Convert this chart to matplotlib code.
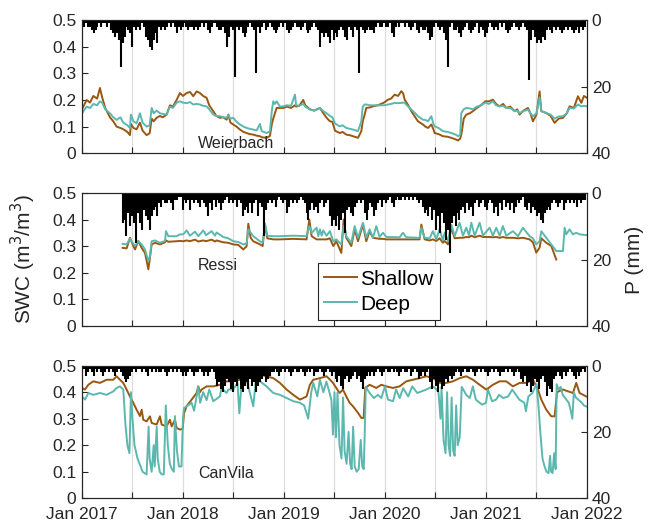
import numpy as np
import matplotlib.pyplot as plt

plt.rcParams['font.family'] = ['Liberation Sans', 'DejaVu Sans']

# ---------------- Weierbach ----------------
wb_t = [2017.000, 2017.046, 2017.080, 2017.112, 2017.150, 2017.178, 2017.200, 2017.230, 2017.277, 2017.310,
        2017.343, 2017.380, 2017.409, 2017.450, 2017.475, 2017.485, 2017.510, 2017.541, 2017.574, 2017.600,
        2017.640, 2017.670, 2017.690, 2017.710, 2017.739, 2017.772, 2017.800, 2017.838, 2017.871, 2017.900,
        2017.937, 2017.970, 2018.000, 2018.036, 2018.070, 2018.102, 2018.135, 2018.168, 2018.200, 2018.234,
        2018.260, 2018.300, 2018.330, 2018.366, 2018.400, 2018.432, 2018.450, 2018.470, 2018.498, 2018.530,
        2018.564, 2018.600, 2018.630, 2018.660, 2018.696, 2018.730, 2018.762, 2018.780, 2018.828, 2018.861,
        2018.880, 2018.894, 2018.910, 2018.927, 2018.960, 2018.993, 2019.030, 2019.070, 2019.109, 2019.120,
        2019.150, 2019.191, 2019.210, 2019.257, 2019.300, 2019.356, 2019.390, 2019.422, 2019.455, 2019.480,
        2019.505, 2019.551, 2019.580, 2019.617, 2019.650, 2019.683, 2019.733, 2019.766, 2019.780, 2019.799,
        2019.815, 2019.850, 2019.881, 2019.930, 2019.990, 2020.030, 2020.060, 2020.096, 2020.130, 2020.162,
        2020.180, 2020.195, 2020.230, 2020.261, 2020.300, 2020.327, 2020.376, 2020.400, 2020.426, 2020.459,
        2020.480, 2020.492, 2020.530, 2020.574, 2020.620, 2020.657, 2020.700, 2020.723, 2020.745, 2020.756,
        2020.780, 2020.805, 2020.840, 2020.871, 2020.910, 2020.950, 2020.993, 2021.030, 2021.069, 2021.100,
        2021.135, 2021.170, 2021.201, 2021.240, 2021.284, 2021.310, 2021.333, 2021.370, 2021.416, 2021.440,
        2021.465, 2021.500, 2021.531, 2021.548, 2021.597, 2021.640, 2021.680, 2021.720, 2021.762, 2021.800,
        2021.828, 2021.870, 2021.911, 2021.944, 2021.970, 2022.000]
wb_shallow = [0.165, 0.200, 0.190, 0.215, 0.205, 0.245, 0.210, 0.170, 0.135, 0.120,
              0.100, 0.095, 0.090, 0.080, 0.068, 0.110, 0.095, 0.090, 0.115, 0.085,
              0.068, 0.075, 0.130, 0.120, 0.133, 0.140, 0.135, 0.145, 0.180, 0.175,
              0.200, 0.226, 0.215, 0.226, 0.230, 0.214, 0.232, 0.226, 0.215, 0.208,
              0.180, 0.158, 0.140, 0.133, 0.135, 0.126, 0.145, 0.115, 0.108, 0.100,
              0.089, 0.080, 0.076, 0.072, 0.070, 0.066, 0.064, 0.060, 0.058, 0.065,
              0.110, 0.130, 0.150, 0.170, 0.170, 0.170, 0.175, 0.170, 0.180, 0.175,
              0.178, 0.200, 0.180, 0.165, 0.160, 0.170, 0.150, 0.133, 0.120, 0.118,
              0.085, 0.076, 0.080, 0.070, 0.068, 0.064, 0.058, 0.083, 0.120, 0.145,
              0.170, 0.172, 0.176, 0.180, 0.190, 0.201, 0.205, 0.220, 0.215, 0.233,
              0.225, 0.201, 0.180, 0.158, 0.135, 0.120, 0.108, 0.100, 0.095, 0.108,
              0.090, 0.076, 0.072, 0.064, 0.062, 0.058, 0.052, 0.048, 0.055, 0.070,
              0.130, 0.145, 0.150, 0.158, 0.170, 0.180, 0.195, 0.195, 0.201, 0.185,
              0.176, 0.185, 0.170, 0.175, 0.158, 0.165, 0.145, 0.160, 0.170, 0.150,
              0.120, 0.145, 0.232, 0.158, 0.151, 0.140, 0.114, 0.130, 0.133, 0.150,
              0.176, 0.170, 0.214, 0.189, 0.215, 0.208]
wb_deep = [0.150, 0.175, 0.170, 0.185, 0.180, 0.195, 0.190, 0.165, 0.150, 0.135,
           0.125, 0.135, 0.115, 0.105, 0.095, 0.145, 0.120, 0.112, 0.150, 0.115,
           0.100, 0.105, 0.170, 0.150, 0.160, 0.150, 0.148, 0.145, 0.175, 0.170,
           0.190, 0.195, 0.190, 0.188, 0.192, 0.183, 0.185, 0.183, 0.178, 0.176,
           0.165, 0.145, 0.140, 0.139, 0.135, 0.133, 0.142, 0.130, 0.133, 0.118,
           0.108, 0.100, 0.095, 0.092, 0.089, 0.086, 0.110, 0.083, 0.076, 0.083,
           0.160, 0.195, 0.185, 0.195, 0.175, 0.176, 0.180, 0.178, 0.220, 0.180,
           0.178, 0.185, 0.175, 0.164, 0.160, 0.170, 0.158, 0.150, 0.140, 0.135,
           0.112, 0.101, 0.105, 0.095, 0.092, 0.089, 0.083, 0.120, 0.175, 0.183,
           0.183, 0.180, 0.180, 0.180, 0.180, 0.183, 0.185, 0.189, 0.188, 0.189,
           0.190, 0.189, 0.175, 0.164, 0.150, 0.139, 0.126, 0.125, 0.120, 0.139,
           0.110, 0.101, 0.095, 0.083, 0.080, 0.076, 0.070, 0.064, 0.070, 0.151,
           0.165, 0.170, 0.168, 0.165, 0.175, 0.180, 0.190, 0.185, 0.195, 0.180,
           0.176, 0.178, 0.170, 0.170, 0.158, 0.160, 0.151, 0.158, 0.164, 0.150,
           0.139, 0.150, 0.210, 0.158, 0.151, 0.145, 0.130, 0.138, 0.139, 0.150,
           0.170, 0.168, 0.183, 0.176, 0.178, 0.176]
# weekly maximum daily precipitation (mm), first week = Jan 2017
wb_p = [1, 2, 1, 2, 2, 3, 4, 3, 2, 1, 2, 1, 1, 2, 1, 3, 4, 5, 4, 6,
        14, 7, 5, 2, 3, 4, 8, 2, 3, 2, 3, 1, 2, 5, 6, 8, 9, 6, 4, 7,
        2, 3, 2, 3, 2, 1, 2, 1, 2, 4, 2, 3, 2, 1, 2, 3, 2, 2, 3, 2,
        3, 2, 1, 2, 1, 3, 4, 2, 1, 1, 2, 3, 3, 2, 4, 8, 5, 2, 3, 17,
        2, 3, 2, 4, 5, 4, 2, 1, 2, 3, 16, 2, 4, 2, 1, 3, 2, 1, 2, 3,
        4, 3, 2, 1, 2, 1, 3, 4, 3, 2, 1, 2, 2, 3, 2, 1, 3, 4, 3, 2,
        1, 2, 3, 8, 4, 5, 4, 5, 7, 3, 6, 4, 5, 3, 2, 3, 5, 6, 2, 3,
        5, 2, 3, 16, 2, 3, 4, 3, 2, 3, 3, 4, 2, 1, 2, 2, 1, 2, 2, 1,
        4, 5, 2, 1, 2, 1, 1, 2, 1, 2, 3, 2, 1, 3, 4, 2, 3, 3, 2, 4,
        6, 5, 2, 1, 2, 3, 2, 4, 6, 14, 2, 1, 3, 3, 2, 4, 5, 3, 2, 1,
        3, 4, 3, 2, 1, 4, 2, 3, 5, 4, 2, 1, 2, 3, 2, 3, 1, 2, 1, 3,
        4, 3, 2, 1, 2, 2, 3, 2, 1, 2, 3, 18, 6, 3, 5, 7, 6, 7, 5, 6,
        3, 2, 3, 4, 2, 3, 2, 3, 4, 3, 2, 3, 2, 3, 4, 3, 2, 4, 2, 3, 2]
wb_p_week0 = 0

# ---------------- Ressi ----------------
rs_t = [2017.403, 2017.442, 2017.475, 2017.502, 2017.525, 2017.558, 2017.591, 2017.624, 2017.657, 2017.673,
        2017.690, 2017.723, 2017.772, 2017.822, 2017.832, 2017.855, 2017.937, 2017.970, 2018.003, 2018.036,
        2018.069, 2018.119, 2018.152, 2018.201, 2018.228, 2018.284, 2018.317, 2018.333, 2018.399, 2018.449,
        2018.498, 2018.548, 2018.597, 2018.630, 2018.647, 2018.670, 2018.696, 2018.762, 2018.789, 2018.812,
        2018.835, 2018.894, 2018.960, 2019.092, 2019.224, 2019.251, 2019.274, 2019.323, 2019.340, 2019.356,
        2019.373, 2019.389, 2019.422, 2019.455, 2019.488, 2019.518, 2019.568, 2019.591, 2019.617, 2019.667,
        2019.700, 2019.733, 2019.782, 2019.815, 2019.848, 2019.881, 2019.914, 2019.947, 2019.980, 2020.013,
        2020.145, 2020.178, 2020.211, 2020.343, 2020.360, 2020.393, 2020.442, 2020.475, 2020.508, 2020.541,
        2020.574, 2020.591, 2020.624, 2020.657, 2020.690, 2020.739, 2020.772, 2020.805, 2020.832, 2020.855,
        2020.888, 2020.937, 2020.970, 2021.036, 2021.069, 2021.102, 2021.135, 2021.168, 2021.201, 2021.267,
        2021.317, 2021.366, 2021.432, 2021.465, 2021.498, 2021.531, 2021.548, 2021.597, 2021.647, 2021.696]
rs_shallow = [0.294, 0.292, 0.332, 0.307, 0.288, 0.320, 0.294, 0.275, 0.213, 0.257,
              0.307, 0.313, 0.307, 0.315, 0.322, 0.317, 0.319, 0.320, 0.319, 0.322,
              0.319, 0.325, 0.318, 0.322, 0.319, 0.325, 0.318, 0.322, 0.315, 0.313,
              0.307, 0.305, 0.288, 0.300, 0.385, 0.332, 0.319, 0.307, 0.301, 0.382,
              0.330, 0.326, 0.326, 0.328, 0.326, 0.401, 0.338, 0.326, 0.326, 0.326,
              0.326, 0.326, 0.326, 0.330, 0.301, 0.319, 0.275, 0.401, 0.332, 0.301,
              0.364, 0.319, 0.382, 0.319, 0.357, 0.332, 0.330, 0.328, 0.328, 0.326,
              0.326, 0.326, 0.326, 0.326, 0.382, 0.326, 0.322, 0.326, 0.320, 0.330,
              0.313, 0.320, 0.307, 0.370, 0.330, 0.332, 0.332, 0.335, 0.334, 0.340,
              0.334, 0.340, 0.335, 0.335, 0.334, 0.335, 0.332, 0.335, 0.332, 0.332,
              0.330, 0.332, 0.326, 0.315, 0.276, 0.295, 0.330, 0.313, 0.301, 0.250]
rs_deep = [0.309, 0.307, 0.328, 0.313, 0.301, 0.319, 0.307, 0.288, 0.244, 0.263,
           0.319, 0.322, 0.313, 0.320, 0.357, 0.338, 0.338, 0.345, 0.345, 0.360,
           0.340, 0.355, 0.338, 0.360, 0.342, 0.357, 0.340, 0.352, 0.335, 0.330,
           0.319, 0.316, 0.307, 0.310, 0.364, 0.351, 0.338, 0.319, 0.313, 0.385,
           0.340, 0.338, 0.338, 0.340, 0.338, 0.376, 0.351, 0.370, 0.338, 0.364,
           0.340, 0.360, 0.340, 0.357, 0.319, 0.326, 0.307, 0.376, 0.338, 0.313,
           0.376, 0.332, 0.389, 0.332, 0.364, 0.332, 0.376, 0.335, 0.351, 0.335,
           0.334, 0.351, 0.334, 0.332, 0.370, 0.332, 0.330, 0.357, 0.326, 0.364,
           0.322, 0.351, 0.319, 0.382, 0.338, 0.389, 0.340, 0.370, 0.342, 0.389,
           0.340, 0.389, 0.340, 0.370, 0.340, 0.370, 0.340, 0.376, 0.340, 0.357,
           0.338, 0.370, 0.338, 0.330, 0.307, 0.319, 0.357, 0.332, 0.307, 0.282]
rs_deep_tail_t = [2021.762, 2021.779, 2021.795, 2021.828, 2021.861, 2021.894, 2021.927, 2022.000]
rs_deep_tail = [0.282, 0.370, 0.345, 0.364, 0.345, 0.351, 0.345, 0.342]
rs_p = [9, 8, 13, 6, 10, 7, 9, 15, 6, 9, 11, 5, 7, 8, 11, 7, 5, 4, 7, 3,
        4, 2, 3, 3, 2, 3, 5, 2, 2, 1, 1, 5, 2, 3, 2, 5, 2, 3, 2, 3,
        4, 2, 3, 4, 7, 3, 5, 2, 4, 2, 3, 5, 3, 2, 1, 3, 2, 3, 2, 4,
        2, 3, 7, 5, 4, 6, 3, 6, 3, 2, 7, 3, 4, 13, 5, 3, 2, 3, 2, 4,
        2, 1, 2, 3, 2, 6, 4, 2, 3, 2, 3, 2, 1, 2, 3, 6, 8, 5, 3, 5,
        4, 6, 3, 2, 4, 3, 2, 7, 10, 8, 10, 7, 11, 8, 6, 12, 5, 4, 6, 7,
        4, 3, 2, 3, 2, 6, 8, 5, 3, 4, 7, 5, 3, 2, 4, 2, 3, 2, 1, 3,
        4, 2, 1, 2, 2, 1, 2, 1, 2, 1, 2, 1, 2, 3, 2, 4, 6, 5, 7, 4,
        8, 5, 11, 7, 12, 6, 9, 14, 11, 18, 9, 7, 10, 6, 8, 5, 4, 6, 3, 5,
        4, 7, 3, 2, 4, 3, 2, 4, 5, 3, 2, 3, 6, 4, 7, 3, 5, 2, 4, 3,
        5, 3, 6, 4, 2, 3, 2, 1, 4, 5, 3, 6, 4, 5, 7, 6, 8, 9, 6, 5,
        4, 5, 3, 2, 3, 4, 3, 2, 5, 3, 2, 3, 2, 3, 2, 4, 2, 3, 2, 2]
rs_p_week0 = 21

# ---------------- CanVila ----------------
cv_t_shallow = [2017.000, 2017.030, 2017.063, 2017.112, 2017.178, 2017.244, 2017.310, 2017.343, 2017.376, 2017.409,
                2017.442, 2017.475, 2017.508, 2017.541, 2017.574, 2017.591, 2017.607, 2017.640, 2017.673, 2017.690,
                2017.739, 2017.772, 2017.789, 2017.838, 2017.871, 2017.888, 2017.921, 2017.937, 2017.970, 2017.997,
                2018.010, 2018.036, 2018.086, 2018.135, 2018.152, 2018.168, 2018.185, 2018.234, 2018.300, 2018.366,
                2018.432, 2018.498, 2018.564, 2018.630, 2018.696, 2018.762, 2018.828, 2018.894, 2018.960, 2019.026,
                2019.092, 2019.158, 2019.224, 2019.257, 2019.290, 2019.356, 2019.422, 2019.472, 2019.485, 2019.518,
                2019.551, 2019.584, 2019.617, 2019.650, 2019.683, 2019.733, 2019.766, 2019.789, 2019.805, 2019.848,
                2019.914, 2019.964, 2020.013, 2020.079, 2020.145, 2020.211, 2020.277, 2020.343, 2020.409, 2020.475,
                2020.541, 2020.607, 2020.673, 2020.739, 2020.805, 2020.871, 2020.937, 2021.003, 2021.069, 2021.135,
                2021.201, 2021.267, 2021.333, 2021.399, 2021.465, 2021.515, 2021.548, 2021.597, 2021.647, 2021.680,
                2021.703, 2021.762, 2021.861, 2021.894, 2021.927, 2021.993]
cv_shallow = [0.416, 0.410, 0.428, 0.441, 0.435, 0.447, 0.447, 0.460, 0.447, 0.435,
              0.410, 0.384, 0.360, 0.334, 0.310, 0.334, 0.296, 0.290, 0.309, 0.284,
              0.278, 0.309, 0.278, 0.271, 0.296, 0.271, 0.296, 0.265, 0.259, 0.262,
              0.320, 0.347, 0.372, 0.397, 0.422, 0.400, 0.410, 0.422, 0.422, 0.428,
              0.441, 0.441, 0.447, 0.453, 0.460, 0.466, 0.460, 0.453, 0.435, 0.410,
              0.390, 0.372, 0.384, 0.428, 0.447, 0.453, 0.460, 0.441, 0.435, 0.416,
              0.397, 0.410, 0.384, 0.360, 0.347, 0.322, 0.303, 0.303, 0.416, 0.428,
              0.416, 0.428, 0.422, 0.416, 0.422, 0.441, 0.447, 0.453, 0.460, 0.453,
              0.435, 0.435, 0.441, 0.453, 0.460, 0.447, 0.428, 0.410, 0.428, 0.441,
              0.441, 0.422, 0.435, 0.435, 0.447, 0.410, 0.372, 0.334, 0.309, 0.309,
              0.400, 0.410, 0.397, 0.435, 0.397, 0.384]
cv_t_deep = [2017.000, 2017.030, 2017.063, 2017.112, 2017.178, 2017.244, 2017.310, 2017.343, 2017.376, 2017.409,
             2017.430, 2017.450, 2017.470, 2017.485, 2017.500, 2017.520, 2017.550, 2017.580, 2017.600, 2017.620,
             2017.640, 2017.660, 2017.670, 2017.690, 2017.710, 2017.720, 2017.740, 2017.750, 2017.770, 2017.790,
             2017.810, 2017.830, 2017.850, 2017.870, 2017.890, 2017.910, 2017.920, 2017.940, 2017.960, 2017.985,
             2018.000, 2018.010, 2018.036, 2018.086, 2018.110, 2018.152, 2018.170, 2018.200, 2018.234, 2018.260,
             2018.300, 2018.366, 2018.380, 2018.432, 2018.450, 2018.498, 2018.540, 2018.558, 2018.580, 2018.630,
             2018.696, 2018.720, 2018.762, 2018.828, 2018.894, 2018.960, 2019.026, 2019.092, 2019.158, 2019.200,
             2019.240, 2019.270, 2019.290, 2019.330, 2019.356, 2019.390, 2019.420, 2019.450, 2019.470, 2019.485,
             2019.500, 2019.515, 2019.530, 2019.550, 2019.570, 2019.585, 2019.600, 2019.620, 2019.640, 2019.655,
             2019.670, 2019.685, 2019.700, 2019.720, 2019.740, 2019.760, 2019.775, 2019.790, 2019.800, 2019.810,
             2019.848, 2019.890, 2019.930, 2019.964, 2020.000, 2020.030, 2020.080, 2020.110, 2020.145, 2020.180,
             2020.230, 2020.270, 2020.320, 2020.409, 2020.475, 2020.510, 2020.530, 2020.550, 2020.560, 2020.580,
             2020.600, 2020.615, 2020.630, 2020.645, 2020.660, 2020.675, 2020.690, 2020.705, 2020.720, 2020.740,
             2020.760, 2020.805, 2020.840, 2020.870, 2020.900, 2020.960, 2021.000, 2021.020, 2021.060, 2021.100,
             2021.130, 2021.170, 2021.220, 2021.260, 2021.330, 2021.380, 2021.395, 2021.420, 2021.460, 2021.500,
             2021.520, 2021.540, 2021.560, 2021.580, 2021.600, 2021.620, 2021.635, 2021.645, 2021.660, 2021.675,
             2021.690, 2021.700, 2021.720, 2021.740, 2021.760, 2021.780, 2021.800, 2021.820, 2021.840, 2021.855,
             2021.870, 2021.890, 2021.920, 2021.950, 2021.970, 2022.000]
cv_deep = [0.384, 0.372, 0.397, 0.390, 0.397, 0.390, 0.403, 0.416, 0.422, 0.410,
           0.280, 0.200, 0.170, 0.400, 0.300, 0.200, 0.150, 0.120, 0.100, 0.095,
           0.090, 0.270, 0.150, 0.100, 0.200, 0.120, 0.270, 0.150, 0.100, 0.090,
           0.090, 0.350, 0.200, 0.130, 0.110, 0.100, 0.310, 0.180, 0.120, 0.120,
           0.300, 0.340, 0.347, 0.360, 0.330, 0.420, 0.360, 0.400, 0.370, 0.410,
           0.366, 0.384, 0.415, 0.397, 0.410, 0.410, 0.435, 0.320, 0.435, 0.447,
           0.347, 0.440, 0.441, 0.422, 0.397, 0.390, 0.378, 0.366, 0.360, 0.350,
           0.300, 0.400, 0.435, 0.384, 0.447, 0.400, 0.440, 0.400, 0.370, 0.240,
           0.400, 0.230, 0.400, 0.200, 0.150, 0.380, 0.180, 0.130, 0.250, 0.130,
           0.110, 0.270, 0.120, 0.100, 0.110, 0.220, 0.120, 0.110, 0.250, 0.420,
           0.397, 0.378, 0.390, 0.378, 0.422, 0.372, 0.366, 0.410, 0.378, 0.415,
           0.384, 0.422, 0.397, 0.410, 0.422, 0.410, 0.400, 0.300, 0.420, 0.220,
           0.170, 0.400, 0.200, 0.160, 0.380, 0.180, 0.160, 0.350, 0.200, 0.230,
           0.420, 0.390, 0.378, 0.422, 0.372, 0.353, 0.360, 0.410, 0.366, 0.372,
           0.390, 0.378, 0.384, 0.410, 0.372, 0.360, 0.328, 0.384, 0.397, 0.430,
           0.350, 0.240, 0.150, 0.120, 0.100, 0.095, 0.160, 0.100, 0.095, 0.170,
           0.110, 0.430, 0.410, 0.420, 0.390, 0.380, 0.370, 0.360, 0.330, 0.300,
           0.400, 0.380, 0.370, 0.360, 0.350, 0.345]
cv_p = [2, 1, 3, 2, 1, 2, 3, 1, 2, 1, 2, 3, 2, 1, 2, 1, 2, 3, 2, 1, 2,
        3, 4, 5, 4, 3, 2,
        1, 2, 1, 1, 2, 1, 2, 3, 1, 2, 1, 2, 1, 2, 2, 1, 2, 3, 2, 1, 2, 1, 2, 1, 2, 3,
        2, 3, 2, 1, 2, 3, 2, 2, 1, 2, 3, 2, 3, 2, 1, 2,
        4, 6, 5, 7, 8, 6, 4, 5, 7, 8, 5, 6, 4, 7, 8, 6, 5, 7, 4, 6, 5, 8, 6, 5, 4, 3, 5, 4, 3, 2,
        2, 1, 2, 3, 2, 1, 2, 1, 2, 3, 2, 1, 2, 2, 1, 2, 3, 2, 1, 2, 1, 3, 2, 2, 1, 2, 3, 2, 1, 2, 3, 2,
        4, 5, 3, 6, 7, 4, 3, 5, 4, 3, 2, 4, 3, 5, 7, 4, 3, 2, 3, 2, 3,
        2, 1, 2, 3, 2, 1, 2, 2, 1, 2, 1, 2, 3, 2, 1, 2, 2, 1, 3, 2, 1, 2, 4, 3, 2, 3, 2, 1,
        5, 7, 4, 6, 8, 5, 7, 6, 4, 5, 3, 4, 3,
        2, 1, 2, 3, 2, 1, 2, 2, 1, 2, 3, 2, 1, 2, 1, 2, 2, 3, 2, 1, 2, 1, 2, 3, 2, 2, 1, 2, 1, 2, 3, 2, 1, 2,
        4, 5, 3, 6, 5, 8, 6, 4, 5, 7, 4, 3, 5, 9, 6, 7, 8, 4,
        3, 2, 3, 4, 2, 3, 2, 1, 2, 3, 4, 2, 3, 2, 1, 2]
cv_p_week0 = 0

site_names = ['Weierbach', 'Ressi', 'CanVila']
xtick_labels = ['Jan 2017', '', 'Jan 2018', '', 'Jan 2019', '', 'Jan 2020', '', 'Jan 2021', '', 'Jan 2022']

c_shallow = '#9a5710'
c_deep = '#5cb8ae'
c_axis = '#262626'
week = 7 / 365.25

fig = plt.figure(figsize=(6.48, 5.26), dpi=100)
boxes = [[0.1265, 0.7086, 0.7793, 0.2534],
         [0.1265, 0.3808, 0.7793, 0.2517],
         [0.1265, 0.0527, 0.7793, 0.2521]]

series = [
    (wb_t, wb_shallow, wb_t, wb_deep, wb_p, wb_p_week0),
    (rs_t, rs_shallow, rs_t + rs_deep_tail_t, rs_deep + rs_deep_tail, rs_p, rs_p_week0),
    (cv_t_shallow, cv_shallow, cv_t_deep, cv_deep, cv_p, cv_p_week0),
]
label_pos = [(0.23, 0.077), (0.23, 0.458), (0.23, 0.19)]

axes = []
for k, (ts, s, td, d, p, w0) in enumerate(series):
    ax = fig.add_axes(boxes[k])
    ax.plot(ts, s, color=c_shallow, lw=1.4, label='Shallow')
    ax.plot(td, d, color=c_deep, lw=1.4, label='Deep')
    ax.set_xlim(2017, 2022)
    ax.set_ylim(0, 0.5)
    ax.set_yticks(np.arange(0, 0.51, 0.1))
    ax.set_yticklabels(['0', '0.1', '0.2', '0.3', '0.4', '0.5'])
    ax.set_xticks(np.arange(2017, 2022.01, 0.5))
    ax.grid(axis='x', color='#dedede', lw=0.9)
    ax.set_axisbelow(True)
    if k == 2:
        ax.set_xticklabels(xtick_labels)
    else:
        ax.set_xticklabels([])
    ax.tick_params(direction='in', length=4, colors=c_axis, labelsize=12.5, width=0.8, pad=4)
    ax.tick_params(axis='x', pad=6)
    ax.text(label_pos[k][0], label_pos[k][1], site_names[k], transform=ax.transAxes,
            fontsize=11.5, color=c_axis, ha='left', va='center')

    ax2 = ax.twinx()
    pt = 2017 + (w0 + np.arange(len(p))) * week
    ax2.vlines(pt, 0, p, color='k', lw=1.5)
    ax2.set_ylim(40, 0)
    ax2.set_yticks([0, 20, 40])
    ax2.set_xlim(2017, 2022)
    ax2.tick_params(direction='in', length=4, colors=c_axis, labelsize=12.5, width=0.8)
    for a in (ax, ax2):
        for sp in a.spines.values():
            sp.set_color(c_axis)
            sp.set_linewidth(0.8)
    axes.append((ax, ax2))

ax, ax2 = axes[1]
ax.set_ylabel('SWC (m$^3$/m$^3$)', fontsize=15, color=c_axis)
ax.yaxis.set_label_coords(-0.087, 0.5)
ax2.set_ylabel('P (mm)', fontsize=15, color=c_axis)
ax2.yaxis.set_label_coords(1.075, 0.5)
h, l = ax.get_legend_handles_labels()
leg = ax2.legend(h, l, loc='lower left', bbox_to_anchor=(0.467, 0.043), fontsize=15,
                 frameon=True, fancybox=False, edgecolor=c_axis, framealpha=1,
                 handlelength=1.6, handletextpad=0.15, borderpad=0.3, labelspacing=0.3,
                 borderaxespad=0)
leg.get_frame().set_linewidth(0.8)

fig.savefig('out.png', dpi=100)
